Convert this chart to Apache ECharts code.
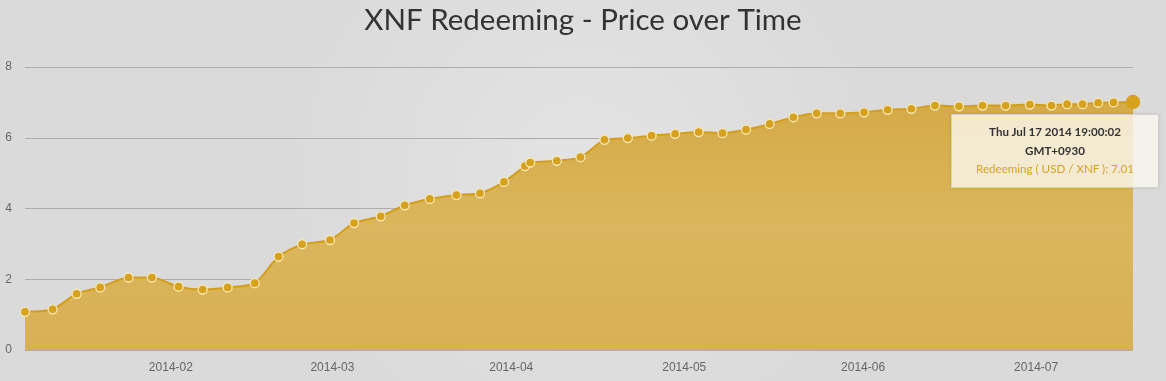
<!DOCTYPE html>
<html>
<head>
<meta charset="utf-8">
<script src="https://cdn.jsdelivr.net/npm/echarts@6/dist/echarts.min.js"></script>
<style>
html,body{margin:0;padding:0;background:#dfdfdf;}
#chart{width:1166px;height:381px;}
</style>
</head>
<body>
<div id="chart"></div>
<script>
var titleText = 'XNF Redeeming - Price over Time';
var seriesName = 'Redeeming ( USD / XNF )';
var tzLabel = 'GMT+0930';

var dates = [
  '2014-01-06 17:00', '2014-01-11 12:00', '2014-01-15 16:00', '2014-01-19 18:00',
  '2014-01-24 16:00', '2014-01-28 17:00', '2014-02-02 08:00', '2014-02-06 12:00',
  '2014-02-10 20:00', '2014-02-15 13:00', '2014-02-19 16:00', '2014-02-23 18:00',
  '2014-02-28 14:00', '2014-03-04 18:00', '2014-03-09 09:00', '2014-03-13 13:00',
  '2014-03-17 21:00', '2014-03-22 12:00', '2014-03-26 14:00', '2014-03-30 18:00',
  '2014-04-03 09:00', '2014-04-04 07:00', '2014-04-08 22:00', '2014-04-13 00:00',
  '2014-04-17 04:00', '2014-04-21 05:00', '2014-04-25 08:00', '2014-04-29 10:00',
  '2014-05-03 12:00', '2014-05-07 15:00', '2014-05-11 17:00', '2014-05-15 19:00',
  '2014-05-19 22:00', '2014-05-23 23:00', '2014-05-28 01:00', '2014-06-01 04:00',
  '2014-06-05 06:00', '2014-06-09 09:00', '2014-06-13 11:00', '2014-06-17 15:00',
  '2014-06-21 17:00', '2014-06-25 17:00', '2014-06-29 22:00', '2014-07-03 16:00',
  '2014-07-06 09:00', '2014-07-09 01:00', '2014-07-11 18:00', '2014-07-14 10:00',
  '2014-07-17 19:00:02'
];

var prices = [
  1.08, 1.15, 1.59, 1.77,
  2.05, 2.05, 1.79, 1.71,
  1.77, 1.89, 2.64, 2.99,
  3.11, 3.59, 3.78, 4.09,
  4.27, 4.38, 4.43, 4.75,
  5.20, 5.30, 5.35, 5.45,
  5.94, 5.99, 6.06, 6.11,
  6.16, 6.13, 6.23, 6.39,
  6.58, 6.69, 6.69, 6.72,
  6.79, 6.82, 6.91, 6.89,
  6.91, 6.91, 6.94, 6.91,
  6.95, 6.95, 6.99, 7.00,
  7.01
];

var yTicks = [0, 2, 4, 6, 8];

var seriesData = dates.map(function (d, i) { return [d, prices[i]]; });

function parseLocal(s) {
  var p = s.split(/[- :]/).map(Number);
  return new Date(p[0], p[1] - 1, p[2], p[3] || 0, p[4] || 0, p[5] || 0);
}
function pad(n) { return (n < 10 ? '0' : '') + n; }
var dayNames = ['Sun','Mon','Tue','Wed','Thu','Fri','Sat'];
var monNames = ['Jan','Feb','Mar','Apr','May','Jun','Jul','Aug','Sep','Oct','Nov','Dec'];

var chart = echarts.init(document.getElementById('chart'), null, {renderer: 'canvas'});
var DAY = 86400000;

function areaGradient() {
  return {
    type: 'linear', x: 0, y: 0, x2: 0, y2: 1,
    colorStops: [
      {offset: 0, color: '#d5aa47'},
      {offset: 0.5, color: '#dbb65c'},
      {offset: 1, color: '#d8b055'}
    ]
  };
}

var option = {
  animation: false,
  backgroundColor: {
    type: 'radial', x: 0.5, y: 0.45, r: 0.8,
    colorStops: [{offset: 0, color: '#e3e3e3'}, {offset: 1, color: '#dadada'}]
  },
  title: {
    text: titleText,
    left: 'center',
    top: 0,
    textStyle: {fontFamily: 'Lato', fontSize: 29.5, fontWeight: 'normal', color: '#333333'}
  },
  grid: {left: 25, right: 33, top: 67, bottom: 31, containLabel: false},
  tooltip: {
    trigger: 'item',
    triggerOn: 'none',
    alwaysShowContent: true,
    position: [951, 114],
    padding: [8, 6, 8, 6],
    backgroundColor: 'rgba(250,247,238,0.82)',
    borderColor: 'rgba(205,205,205,0.9)',
    borderWidth: 1,
    extraCssText: 'width:194px;box-shadow:0 0 3px rgba(0,0,0,0.12);border-radius:0;text-align:center;line-height:18.5px;',
    formatter: function (p) {
      var d = parseLocal(p.value[0]);
      var s = dayNames[d.getDay()] + ' ' + monNames[d.getMonth()] + ' ' + pad(d.getDate()) + ' ' +
        d.getFullYear() + ' ' + pad(d.getHours()) + ':' + pad(d.getMinutes()) + ':' + pad(d.getSeconds());
      return '<div style="font-family:Lato;font-size:11.6px;font-weight:bold;color:#333">' + s + '<br>' + tzLabel + '</div>' +
        '<div style="font-family:Lato;font-size:11.6px;color:#d4a126">' + p.seriesName + ': ' + p.value[1].toFixed(2) + '</div>';
    }
  },
  xAxis: {
    type: 'time',
    min: parseLocal(dates[0]).getTime(),
    max: parseLocal(dates[dates.length - 1]).getTime(),
    minInterval: 28 * DAY,
    maxInterval: 31 * DAY,
    axisLine: {show: false},
    axisTick: {show: false},
    splitLine: {show: false},
    axisLabel: {
      formatter: '{yyyy}-{MM}',
      fontFamily: 'Liberation Sans',
      fontSize: 12,
      color: '#666666',
      margin: 12,
      showMinLabel: false,
      showMaxLabel: false
    }
  },
  yAxis: {
    type: 'value',
    min: yTicks[0],
    max: yTicks[yTicks.length - 1],
    interval: 2,
    axisLine: {show: false},
    axisTick: {show: false},
    splitLine: {lineStyle: {color: '#adadad', width: 1}},
    axisLabel: {fontFamily: 'Liberation Sans', fontSize: 12, color: '#666666', margin: 13}
  },
  series: [{
    name: seriesName,
    type: 'line',
    data: seriesData,
    smooth: 0.25,
    symbol: 'circle',
    symbolSize: 9,
    showAllSymbol: true,
    lineStyle: {color: '#d39e1b', width: 2},
    itemStyle: {color: '#d6a11d', borderColor: '#f6e8b8', borderWidth: 1.3},
    areaStyle: {color: areaGradient(), opacity: 1},
    emphasis: {
      focus: 'none',
      scale: 1.6,
      itemStyle: {color: '#d6a11d', borderColor: '#d6a11d', borderWidth: 0},
      lineStyle: {color: '#d39e1b', width: 2},
      areaStyle: {color: areaGradient(), opacity: 1}
    },
    z: 3
  }]
};

chart.setOption(option);
var lastIdx = dates.length - 1;
chart.dispatchAction({type: 'highlight', seriesIndex: 0, dataIndex: lastIdx});
chart.dispatchAction({type: 'showTip', seriesIndex: 0, dataIndex: lastIdx});
</script>
</body>
</html>
